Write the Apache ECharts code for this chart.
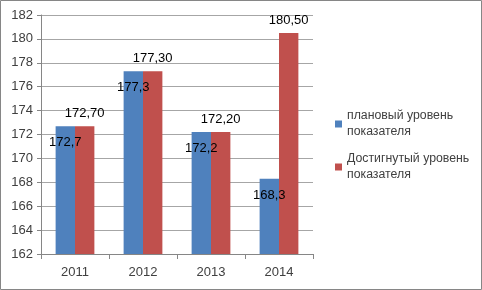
<!DOCTYPE html>
<html>
<head>
<meta charset="utf-8">
<script src="https://cdn.jsdelivr.net/npm/echarts@6/dist/echarts.min.js"></script>
<style>
    html, body { margin: 0; padding: 0; background: #fff; }
    #chart { width: 482px; height: 290px; }
</style>
</head>
<body>
<div id="chart"></div>
<script>
var years = ['2011', '2012', '2013', '2014'];
var planValues = [172.7, 177.3, 172.2, 168.3];
var factValues = [172.7, 177.3, 172.2, 180.5];
var planName = 'плановый уровень\nпоказателя';
var factName = 'Достигнутый уровень\nпоказателя';

var fontFamily = '"Liberation Sans", Arial, sans-serif';
var textColor = '#404040';
var lineColor = '#868686';

var chart = echarts.init(document.getElementById('chart'));
var option = {
    animation: false,
    textStyle: {fontFamily: fontFamily},
    graphic: [
        {
            type: 'rect',
            shape: {x: 0.5, y: 0.5, width: 481, height: 289},
            style: {fill: 'none', stroke: lineColor, lineWidth: 1}
        }
    ],
    grid: {left: 41, right: 169, top: 15, bottom: 36},
    legend: {
        orient: 'vertical',
        left: 330,
        top: 103,
        itemWidth: 7,
        itemHeight: 7,
        itemGap: 11,
        icon: 'rect',
        textStyle: {fontSize: 12.3, color: textColor, lineHeight: 16, fontFamily: fontFamily},
        data: [planName, factName]
    },
    xAxis: {
        type: 'category',
        data: years,
        axisLine: {lineStyle: {color: lineColor}},
        axisTick: {show: true, length: 5, lineStyle: {color: lineColor}},
        axisLabel: {color: textColor, fontSize: 13, margin: 12}
    },
    yAxis: {
        type: 'value',
        min: 162,
        max: 182,
        interval: 2,
        axisLine: {show: true, lineStyle: {color: lineColor}},
        axisTick: {show: true, length: 4, lineStyle: {color: lineColor}},
        axisLabel: {color: textColor, fontSize: 13, margin: 8},
        splitLine: {lineStyle: {color: '#a6a6a6'}}
    },
    series: [
        {
            name: planName,
            type: 'bar',
            data: planValues,
            barGap: '0%',
            barCategoryGap: '43%',
            itemStyle: {color: '#4F81BD'},
            label: {
                show: true,
                position: 'insideTop',
                distance: 10,
                color: '#000',
                fontSize: 13,
                formatter: function (p) {
                    return p.value.toFixed(1).replace('.', ',');
                }
            }
        },
        {
            name: factName,
            type: 'bar',
            data: factValues,
            itemStyle: {color: '#C0504D'},
            label: {
                show: true,
                position: 'top',
                distance: 6,
                color: '#000',
                fontSize: 13,
                formatter: function (p) {
                    return p.value.toFixed(2).replace('.', ',');
                }
            }
        }
    ]
};
chart.setOption(option);
</script>
</body>
</html>
